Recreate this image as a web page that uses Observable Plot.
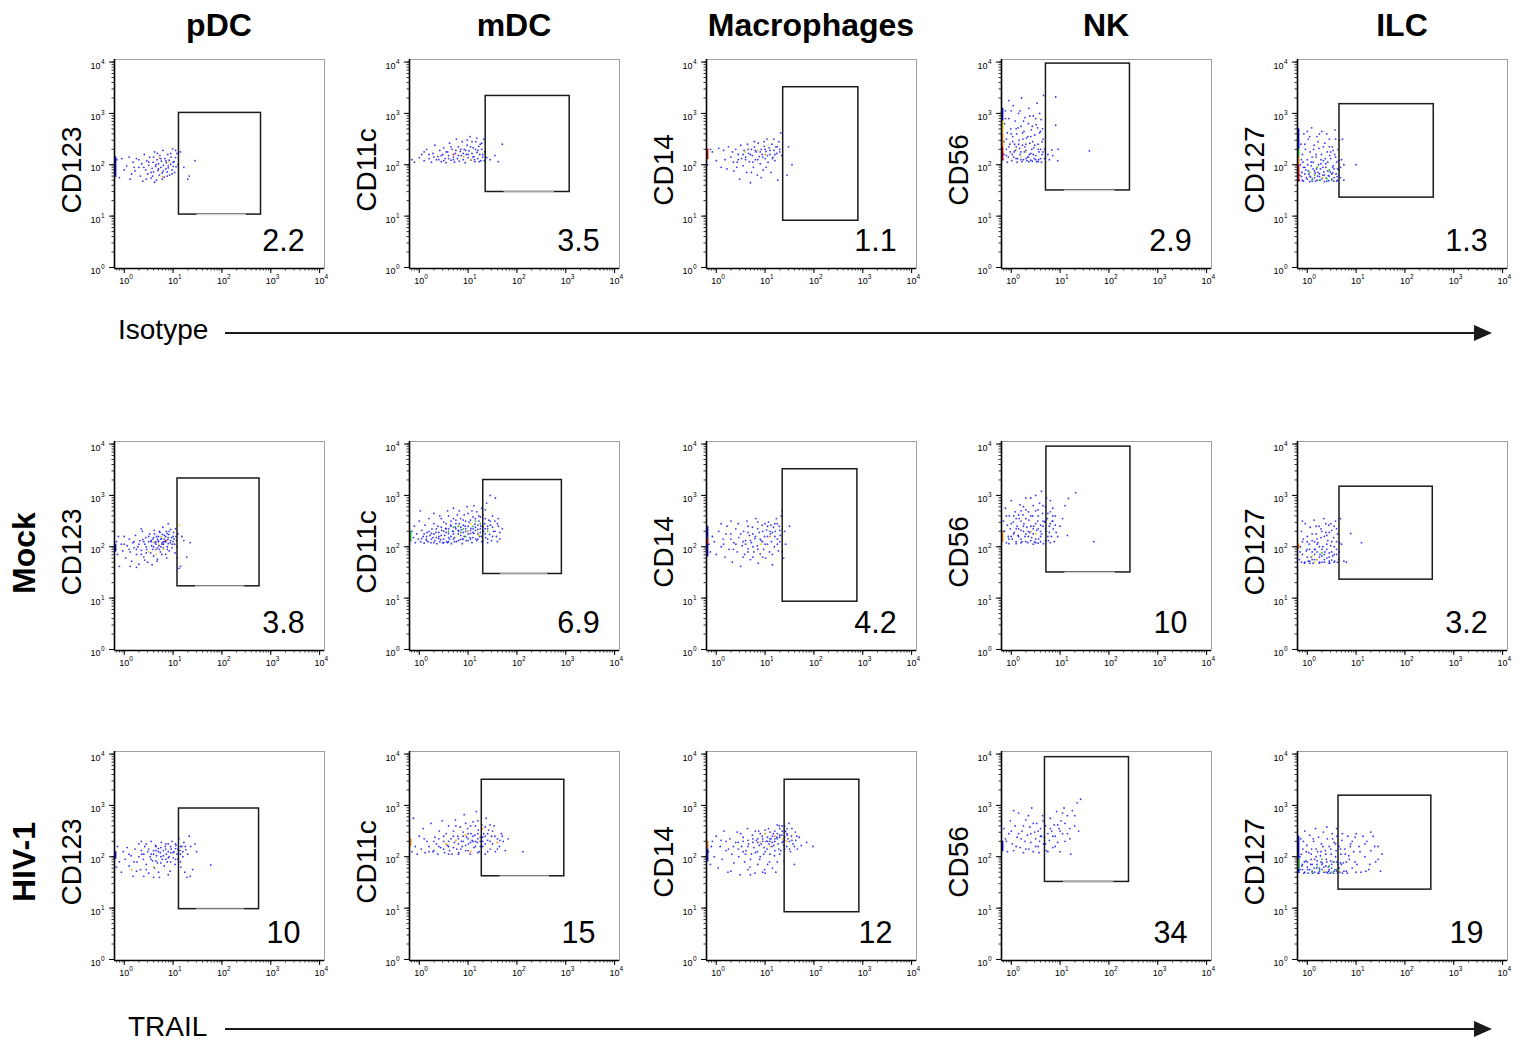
<!DOCTYPE html>
<html>
<head>
<meta charset="utf-8">
<script src="https://cdn.jsdelivr.net/npm/d3@7"></script>
<script src="https://cdn.jsdelivr.net/npm/@observablehq/plot@0.6"></script>
<style>
  body { margin: 0; background: #fff; }
  #page { position: relative; width: 1523px; height: 1043px; overflow: hidden; background: #fff;
          font-family: "Liberation Sans", Arial, Helvetica, sans-serif; }
  #page svg.panel { position: absolute; overflow: visible; }
  #overlay { position: absolute; left: 0; top: 0; }
</style>
</head>
<body>
<div id="page"></div>
<script>
// ---------- data (values in log10 units) ----------
const populations = ["pDC", "mDC", "Macrophages", "NK", "ILC"];
const markers = ["CD123", "CD11c", "CD14", "CD56", "CD127"];
const rowLabels = ["", "Mock", "HIV-1"];
const percents = [
  [2.2, 3.5, 1.1, 2.9, 1.3],
  [3.8, 6.9, 4.2, 10, 3.2],
  [10, 15, 12, 34, 19]
];
// gates: [x1, x2, y1, y2] as log10 of TRAIL and marker intensity
const gatesIsotype = [[1.12, 2.80, 1.03, 3.01], [1.36, 3.08, 1.47, 3.34], [1.37, 2.91, 0.91, 3.51], [0.71, 2.43, 1.50, 3.97], [0.66, 2.59, 1.36, 3.18]];
const gatesMock    = [[1.09, 2.77, 1.23, 3.33], [1.31, 2.92, 1.47, 3.30], [1.36, 2.89, 0.93, 3.51], [0.72, 2.44, 1.50, 3.95], [0.66, 2.57, 1.36, 3.17]];
const gatesHIV     = [[1.12, 2.76, 0.98, 2.94], [1.28, 2.97, 1.62, 3.50], [1.40, 2.93, 0.92, 3.50], [0.69, 2.41, 1.51, 3.94], [0.64, 2.54, 1.36, 3.19]];
const fadedGateBase = [true, true, false, true, false];
const axisExponents = [0, 1, 2, 3, 4];
const tickBase = "10";

// events (x = log10 TRAIL, y = log10 marker)
const cloudsIsotype = [
"-0.18,1.92 -0.15,2.1 -0.1,1.75 -0.05,2.12 0.05,1.98 0.12,1.72 0.18,2.05 0.22,1.88 0.25,2.12 0.3,1.95 0.33,1.78 0.36,2.02 0.38,1.68 0.41,2.2 0.44,1.9 0.46,2.08 0.48,1.82 0.5,1.99 0.52,2.15 0.55,1.74 0.57,1.93 0.59,2.05 0.6,1.86 0.62,2.25 0.64,1.97 0.66,1.7 0.67,2.1 0.69,1.89 0.7,2.02 0.72,1.8 0.73,2.18 0.75,1.95 0.76,2.07 0.78,1.84 0.79,2.28 0.8,1.99 0.82,1.76 0.83,2.12 0.85,1.92 0.86,2.04 0.88,1.86 0.89,2.2 0.9,1.98 0.92,2.09 0.93,1.8 0.95,2.01 0.96,2.15 0.98,1.9 0.99,2.31 1.0,1.97 1.02,2.06 1.03,1.85 1.05,2.14 1.06,1.96 1.08,2.22 1.1,2.0 1.15,2.25 1.22,1.95 1.33,1.78 1.3,1.72 1.45,2.08 0.4,1.95 0.5,2.05 0.55,1.85 0.6,2.15 0.65,2.0 0.7,1.92 0.75,2.12 0.8,1.88 0.85,2.08 0.9,1.94 0.95,2.22 1.0,2.05 0.68,2.22 0.58,1.78 0.78,1.72 0.88,1.78 0.98,1.82 0.3,2.1 0.2,1.95 0.1,2.15 0.15,1.82 0.0,1.9 0.45,1.72 1.05,2.28 0.62,1.66",
"-0.15,2.1 -0.1,2.05 0.05,2.2 0.1,2.08 0.15,2.3 0.2,2.12 0.25,2.05 0.28,2.22 0.32,2.38 0.35,2.1 0.38,2.16 0.42,2.28 0.45,2.06 0.48,2.2 0.5,2.33 0.53,2.12 0.55,2.04 0.58,2.25 0.6,2.18 0.62,2.42 0.65,2.09 0.67,2.3 0.7,2.15 0.72,2.05 0.74,2.22 0.76,2.5 0.78,2.12 0.8,2.35 0.82,2.07 0.84,2.26 0.86,2.18 0.88,2.45 0.9,2.1 0.92,2.3 0.94,2.04 0.96,2.2 0.98,2.38 1.0,2.14 1.02,2.27 1.04,2.55 1.06,2.09 1.08,2.22 1.1,2.33 1.12,2.16 1.14,2.06 1.16,2.45 1.18,2.24 1.2,2.12 1.22,2.36 1.24,2.2 1.26,2.08 1.28,2.3 1.3,2.15 1.32,2.5 1.34,2.25 1.38,2.14 1.45,2.1 1.55,2.18 1.62,2.06 1.7,2.4 0.3,2.15 0.4,2.1 0.5,2.08 0.6,2.12 0.7,2.1 0.8,2.18 0.9,2.22 1.0,2.2 1.1,2.15 1.2,2.28 1.3,2.2 0.85,2.3 0.95,2.28 1.05,2.35 1.15,2.3 1.25,2.4 0.75,2.28 0.65,2.35 0.55,2.25 0.45,2.18 1.18,2.52 1.08,2.45 0.98,2.48 1.28,2.42 0.2,2.2 0.1,2.25 0.0,2.14 1.33,2.08 1.23,2.06 1.13,2.1",
"-0.18,2.0 -0.12,2.3 -0.08,2.25 0.0,2.08 0.05,2.32 0.1,1.95 0.15,2.28 0.18,2.1 0.22,1.92 0.25,2.35 0.3,2.15 0.33,2.25 0.36,1.88 0.4,2.3 0.43,2.05 0.45,2.2 0.48,1.72 0.5,2.38 0.52,2.12 0.55,1.98 0.57,2.28 0.6,2.15 0.62,1.85 0.64,2.4 0.66,2.22 0.68,2.06 0.7,1.65 0.72,2.3 0.74,2.18 0.76,1.95 0.78,2.35 0.8,2.1 0.82,2.25 0.84,1.8 0.86,2.42 0.88,2.16 0.9,2.02 0.92,2.3 0.94,2.2 0.96,1.9 0.98,2.36 1.0,2.12 1.02,2.26 1.04,2.5 1.06,2.05 1.08,2.33 1.1,2.2 1.12,1.85 1.14,2.4 1.16,2.15 1.18,2.28 1.2,2.08 1.22,2.35 1.24,2.22 1.26,1.7 1.28,2.45 1.3,2.3 1.32,2.62 1.34,2.18 1.48,2.35 1.55,2.0 1.45,1.8 0.7,2.2 0.8,2.28 0.9,2.25 1.0,2.3 1.1,2.28 1.2,2.2 1.3,2.25 0.6,2.1 0.75,2.05 0.85,2.1 0.95,2.15 1.05,2.18 1.15,2.12 1.25,2.35 0.65,2.3 0.55,2.2 0.45,2.1 0.35,2.05 1.18,2.5 0.98,2.45 0.78,2.45 0.92,1.75 0.72,1.85 1.02,1.95 0.42,1.95",
"-0.17,2.1 -0.15,2.45 -0.14,2.8 -0.12,3.05 -0.1,2.3 -0.08,2.62 -0.06,2.15 -0.05,2.9 -0.03,2.4 -0.01,2.7 0.01,2.08 0.03,2.55 0.04,3.15 0.06,2.25 0.08,2.85 0.1,2.35 0.11,2.6 0.13,2.12 0.15,3.0 0.16,2.48 0.18,2.2 0.2,2.75 0.21,3.3 0.23,2.38 0.25,2.1 0.26,2.65 0.28,2.92 0.3,2.28 0.31,2.52 0.33,2.15 0.35,2.8 0.36,3.1 0.38,2.42 0.4,2.22 0.41,2.68 0.43,2.07 0.45,2.95 0.46,2.33 0.48,2.58 0.5,2.18 0.51,2.78 0.53,3.2 0.55,2.4 0.56,2.1 0.58,2.62 0.6,2.3 0.61,2.88 0.63,2.2 0.65,2.5 0.66,3.35 0.68,2.12 0.02,2.2 0.12,2.05 0.22,2.06 0.32,2.08 0.42,2.3 0.52,2.06 0.62,2.05 -0.1,2.18 0.07,2.4 0.17,2.32 0.27,2.25 0.37,2.2 0.47,2.12 0.57,2.25 -0.05,3.25 0.24,2.5 0.44,2.45 0.14,2.72 0.34,2.55 0.54,2.72 0.64,2.7 0.83,2.29 0.91,3.32 0.91,2.77 0.96,2.3 0.85,2.18 0.95,2.08 0.75,2.2 1.6,2.27 0.78,2.1 -0.15,2.2 -0.1,2.5 -0.05,2.35 0.0,2.6 0.05,2.15 0.1,2.7 0.15,2.4 0.2,2.25 0.25,2.85 0.3,2.4 0.35,2.15 0.4,2.55 0.45,2.2 0.5,2.9 0.55,2.3 0.6,2.65 0.65,2.25 -0.12,2.9 0.0,3.05 0.18,3.05 0.38,2.95 0.58,3.0 0.1,2.12 0.2,2.1 0.3,2.12 0.4,2.09 0.5,2.1 0.6,2.12 -0.02,2.25 0.08,2.28 0.28,2.35 0.48,2.38 0.68,2.3 0.03,2.45 0.23,2.62 0.43,2.75 0.63,2.45 -0.08,2.05 0.36,2.06 0.55,2.06",
"-0.16,1.7 -0.14,2.0 -0.13,2.4 -0.11,1.85 -0.1,2.2 -0.08,1.68 -0.07,2.6 -0.05,1.95 -0.04,2.3 -0.02,1.75 0.0,2.1 0.02,2.5 0.03,1.82 0.05,1.67 0.06,2.25 0.08,1.98 0.09,2.72 0.11,1.72 0.12,2.05 0.14,2.38 0.15,1.88 0.17,1.68 0.18,2.15 0.2,2.55 0.21,1.78 0.23,2.0 0.24,2.32 0.26,1.7 0.27,1.92 0.29,2.2 0.3,2.65 0.32,1.8 0.33,2.08 0.35,1.67 0.36,2.42 0.38,1.95 0.39,1.74 0.41,2.25 0.42,2.05 0.44,1.69 0.45,2.5 0.47,1.86 0.48,2.12 0.5,1.72 0.51,2.35 0.53,1.98 0.54,1.68 0.56,2.2 0.57,2.68 0.59,1.82 0.6,2.05 0.62,1.7 0.63,2.3 0.65,1.9 0.66,2.48 0.68,1.75 0.7,2.1 -0.12,1.77 -0.03,1.9 0.07,1.76 0.16,1.84 0.25,1.77 0.34,1.86 0.43,1.79 0.52,1.84 0.61,1.77 0.1,2.15 0.28,2.02 0.46,2.18 0.64,2.08 -0.09,2.05 0.01,2.0 0.19,1.92 0.37,2.12 0.55,1.92 0.22,2.45 0.4,2.6 0.05,2.55 0.58,2.5 0.75,2.0 1.0,2.0 0.75,1.7 0.72,2.5 -0.15,1.8 -0.1,1.7 -0.05,1.82 0.0,1.72 0.05,1.78 0.1,1.68 0.15,1.75 0.2,1.7 0.25,1.82 0.3,1.73 0.35,1.8 0.4,1.68 0.45,1.78 0.5,1.82 0.55,1.75 0.6,1.68 0.65,1.8 -0.08,1.95 0.02,1.88 0.12,1.92 0.22,1.85 0.32,1.95 0.42,1.88 0.52,1.95 0.62,1.92 -0.12,2.1 0.08,2.05 0.18,2.2 0.28,2.1 0.38,2.02 0.48,2.25 0.58,2.15 0.68,1.95 -0.05,2.4 0.13,2.3 0.33,2.35 0.53,2.28 0.0,2.65 0.25,2.6 0.45,2.35"
];
const cloudsMock = [
"-0.18,1.95 -0.16,2.1 -0.14,1.85 -0.12,2.2 -0.1,1.62 -0.06,2.05 -0.03,1.92 0.0,2.2 0.03,1.78 0.06,2.02 0.1,2.15 0.12,1.9 0.15,1.72 0.18,2.08 0.2,1.98 0.23,2.22 0.25,1.85 0.28,2.0 0.3,1.66 0.32,2.12 0.35,1.93 0.37,2.3 0.4,1.8 0.42,2.05 0.44,2.18 0.46,1.95 0.48,1.7 0.5,2.1 0.52,2.25 0.54,1.88 0.56,2.02 0.58,2.15 0.6,1.82 0.61,2.32 0.63,2.08 0.65,1.95 0.66,2.2 0.68,1.76 0.7,2.12 0.71,2.02 0.73,2.28 0.74,1.9 0.76,2.16 0.77,2.05 0.79,2.38 0.8,1.98 0.82,2.22 0.83,2.1 0.85,1.85 0.86,2.3 0.88,2.0 0.89,2.14 0.91,2.24 0.92,1.92 0.94,2.08 0.95,2.34 0.97,2.18 0.98,1.98 1.0,2.1 1.01,2.28 1.03,2.05 1.04,1.88 1.06,2.2 1.07,2.12 1.09,1.78 1.1,2.25 0.6,2.0 0.65,2.1 0.7,2.2 0.75,2.0 0.8,2.1 0.85,2.2 0.9,2.06 0.72,1.95 0.78,2.24 0.68,2.15 0.88,2.26 0.55,2.12 0.45,2.0 0.38,2.14 0.35,2.35 0.42,1.74 0.25,1.6 0.12,1.62 1.18,2.2 1.22,2.12 1.35,2.08 1.28,1.8 1.15,1.62 1.12,1.58 0.9,2.45 0.55,2.1 0.6,2.18 0.65,2.05 0.7,2.1 0.75,2.15 0.8,2.05 0.85,2.1 0.9,2.18 0.95,2.12 1.0,2.2 0.62,2.25 0.72,2.3 0.82,2.15 0.92,2.3 1.02,2.15 0.58,1.95 0.68,1.98 0.78,2.08 0.88,1.95 0.98,2.05 1.08,2.0 0.5,2.2 0.4,2.1 0.3,2.05 0.2,2.1 0.1,1.95 0.0,2.05 0.45,1.88 0.35,1.85 0.25,1.95 0.77,1.85 0.87,1.78 0.67,1.72 0.57,1.65 1.05,2.35",
"-0.18,2.12 -0.15,2.3 -0.12,2.18 -0.1,2.4 -0.08,2.08 -0.05,2.25 -0.02,2.15 0.0,2.5 0.03,2.1 0.05,2.32 0.08,2.2 0.1,2.07 0.12,2.42 0.14,2.15 0.16,2.28 0.18,2.1 0.2,2.55 0.22,2.22 0.24,2.08 0.26,2.35 0.28,2.18 0.3,2.45 0.32,2.12 0.34,2.28 0.36,2.06 0.38,2.4 0.4,2.2 0.42,2.6 0.44,2.14 0.46,2.32 0.48,2.08 0.5,2.48 0.52,2.22 0.54,2.36 0.56,2.1 0.58,2.7 0.6,2.26 0.62,2.15 0.64,2.42 0.66,2.06 0.68,2.3 0.7,2.55 0.72,2.18 0.74,2.38 0.76,2.1 0.78,2.62 0.8,2.25 0.82,2.45 0.84,2.14 0.86,2.33 0.88,2.06 0.9,2.52 0.92,2.2 0.94,2.4 0.96,2.12 0.98,2.78 1.0,2.3 1.02,2.48 1.04,2.18 1.06,2.36 1.08,2.08 1.1,2.58 1.12,2.26 1.14,2.44 1.16,2.15 1.18,2.68 1.2,2.34 1.22,2.5 1.24,2.2 1.26,2.4 1.28,2.1 1.3,2.62 1.32,2.3 1.34,2.45 1.36,2.18 1.38,2.85 1.4,2.35 1.42,2.52 1.44,2.24 1.46,2.42 1.48,2.12 1.5,2.6 1.52,2.3 1.55,2.5 1.58,2.2 1.62,2.4 1.65,2.28 1.7,2.35 1.56,2.95 1.6,2.1 0.5,2.15 0.6,2.35 0.7,2.25 0.8,2.32 0.9,2.28 1.0,2.4 1.1,2.35 1.2,2.42 1.3,2.38 0.65,2.2 0.75,2.45 0.85,2.22 0.95,2.3 1.05,2.26 1.15,2.32 1.25,2.28 1.35,2.35 0.55,2.28 0.45,2.22 0.35,2.18 0.25,2.26 0.15,2.2 0.92,2.62 1.08,2.7 1.22,2.6 1.35,2.72 1.45,3.0 0.7,2.75 0.3,2.65 0.02,2.7 1.05,2.15 1.18,2.12 1.28,2.2 0.88,2.15 0.72,2.1 0.58,2.08 0.42,2.1 1.4,2.15 1.5,2.38 1.62,2.55 0.8,2.3 0.85,2.38 0.9,2.42 0.95,2.35 1.0,2.25 1.05,2.32 1.1,2.28 1.15,2.38 1.2,2.25 1.25,2.35 1.3,2.3 1.35,2.25 1.4,2.4 0.75,2.35 0.7,2.3 0.65,2.4 0.6,2.18 0.55,2.35 0.5,2.3 0.45,2.38 0.4,2.28 0.35,2.35 0.3,2.25 0.25,2.15 0.2,2.3 0.15,2.12 0.1,2.25 0.05,2.16 0.9,2.15 1.0,2.12 1.1,2.18 1.2,2.15 1.3,2.12 1.4,2.08 0.8,2.12 0.7,2.15 0.6,2.1 0.5,2.08 0.4,2.16 0.3,2.08 0.95,2.5 1.05,2.52 1.15,2.55 1.25,2.58 1.35,2.55 0.85,2.55 0.75,2.52 0.65,2.5 0.55,2.45 1.45,2.5 1.5,2.2 1.55,2.3 1.6,2.45 1.65,2.15 1.0,2.65 1.12,2.8 0.82,2.7 1.28,2.75 0.6,2.6 0.45,2.55",
"-0.15,2.05 -0.12,1.9 -0.08,2.2 -0.04,2.1 0.0,1.85 0.05,2.3 0.1,2.0 0.14,2.15 0.18,1.8 0.22,2.4 0.26,1.95 0.3,2.25 0.33,1.7 0.36,2.08 0.4,2.35 0.43,1.9 0.46,2.18 0.5,1.62 0.53,2.02 0.56,2.3 0.58,1.85 0.6,2.12 0.63,2.5 0.65,1.96 0.68,2.22 0.7,1.75 0.72,2.08 0.74,2.38 0.77,1.9 0.79,2.16 0.81,2.55 0.84,2.02 0.86,1.68 0.88,2.28 0.9,1.86 0.92,2.12 0.94,2.42 0.97,1.95 0.99,2.2 1.01,1.78 1.03,2.33 1.05,2.05 1.07,2.48 1.09,1.9 1.11,2.25 1.13,2.1 1.15,1.65 1.17,2.38 1.19,2.0 1.21,2.3 1.23,2.55 1.25,2.15 1.27,1.92 1.29,2.4 1.31,2.22 1.33,2.6 0.95,2.3 0.85,2.35 1.0,2.45 1.12,2.42 1.2,2.45 0.75,2.25 0.65,2.28 0.55,2.1 0.45,2.45 0.3,2.5 0.1,2.45 1.35,2.7 1.4,2.3 1.42,2.05 1.5,2.4 1.35,1.9 1.38,1.78 0.6,2.05 0.7,2.12 0.8,2.2 0.9,2.15 1.0,2.05 1.1,2.3 1.2,2.2 1.3,2.1 0.65,1.9 0.75,2.0 0.85,1.95 0.95,2.1 1.05,2.2 1.15,2.28 1.25,2.05 0.5,2.25 0.4,2.05 0.3,2.15 0.2,2.25 0.55,1.8 0.75,1.8 0.95,1.8 1.15,1.85 0.85,2.48 1.05,2.4 1.25,2.45 0.65,2.4 0.35,1.95 0.15,2.05 1.3,2.32",
"-0.18,2.12 -0.16,2.5 -0.14,2.3 -0.12,2.75 -0.1,2.08 -0.08,2.42 -0.06,2.2 -0.04,2.6 -0.02,2.35 0.0,2.9 0.02,2.15 0.04,2.48 0.06,2.28 0.08,2.68 0.1,2.06 0.12,2.4 0.14,2.22 0.16,2.55 0.18,2.82 0.2,2.32 0.22,2.1 0.24,2.62 0.26,2.45 0.28,2.2 0.3,2.72 0.32,2.38 0.34,2.08 0.36,2.52 0.38,2.28 0.4,2.95 0.42,2.18 0.44,2.6 0.46,2.4 0.48,2.1 0.5,2.7 0.52,2.32 0.54,2.5 0.56,2.15 0.58,2.85 0.6,2.42 0.62,2.25 0.64,2.65 0.66,2.06 0.68,2.48 0.7,2.78 0.72,2.3 0.74,2.55 0.76,2.12 0.78,2.4 0.8,2.68 0.82,2.2 0.84,2.5 0.86,2.35 0.88,2.1 0.9,2.6 0.92,2.28 0.1,2.35 0.2,2.5 0.3,2.25 0.4,2.4 0.5,2.45 0.6,2.3 0.7,2.5 0.15,2.2 0.35,2.3 0.55,2.35 0.25,2.3 0.45,2.25 0.65,2.4 0.05,2.6 0.5,3.0 0.62,3.08 0.3,2.95 0.8,2.9 0.85,2.75 0.2,2.7 0.75,2.2 0.55,2.07 0.45,2.05 -0.05,2.06 1.0,2.4 1.05,2.55 1.1,2.8 1.17,2.94 1.32,3.05 1.15,2.22 1.69,2.1 0.95,2.2 -0.15,2.3 -0.1,2.6 -0.05,2.15 0.0,2.45 0.05,2.25 0.1,2.55 0.15,2.35 0.2,2.15 0.25,2.4 0.3,2.55 0.35,2.2 0.4,2.6 0.45,2.35 0.5,2.15 0.55,2.6 0.6,2.2 0.65,2.5 0.7,2.35 0.75,2.65 0.8,2.45 0.85,2.6 0.9,2.42 0.3,2.1 0.4,2.12 0.5,2.08 0.6,2.1 0.7,2.12 0.8,2.08 0.2,2.08 0.1,2.1 0.0,2.2 0.65,2.8 0.72,2.95 0.45,2.8 0.55,2.72 0.25,2.78 0.15,2.62 0.35,2.68 0.85,2.5 0.78,2.28",
"-0.16,1.75 -0.14,2.0 -0.12,2.3 -0.1,1.85 -0.08,2.15 -0.06,1.68 -0.04,2.45 -0.02,1.92 0.0,2.2 0.02,1.72 0.04,2.05 0.06,2.38 0.08,1.8 0.1,2.12 0.12,1.68 0.14,2.52 0.16,1.95 0.18,2.25 0.2,1.75 0.22,2.08 0.24,2.4 0.26,1.85 0.28,2.18 0.3,1.7 0.32,2.0 0.34,2.55 0.36,1.9 0.38,2.28 0.4,1.78 0.42,2.12 0.44,2.42 0.46,1.68 0.48,2.02 0.5,2.32 0.52,1.82 0.54,2.18 0.56,1.72 0.58,2.5 0.6,1.95 0.62,2.25 0.64,1.76 0.66,2.08 0.0,1.8 0.1,1.75 0.2,1.9 0.3,1.82 0.4,1.95 0.5,1.74 0.6,1.85 0.05,1.95 0.15,1.85 0.25,2.0 0.35,1.75 0.45,1.88 0.55,2.0 0.25,1.7 0.45,1.72 0.15,2.1 0.35,2.2 0.55,2.4 -0.1,2.5 0.28,2.35 0.48,2.45 0.7,2.05 0.75,1.72 0.8,1.7 0.89,2.26 1.11,2.08 0.68,2.55 -0.15,1.9 -0.1,2.1 -0.05,1.7 0.0,1.95 0.05,1.72 0.1,1.9 0.15,1.75 0.2,2.05 0.25,1.8 0.3,1.95 0.35,1.7 0.4,2.05 0.45,1.8 0.5,1.9 0.55,1.7 0.6,2.1 0.65,1.9 0.0,2.1 0.1,2.25 0.2,2.15 0.3,2.3 0.4,2.22 0.5,2.1 0.6,2.35 0.05,1.68 0.25,1.68 0.45,1.68 0.62,1.7 -0.12,1.7 0.35,1.85 0.15,1.95 0.55,1.85 0.45,2.28 0.18,2.4 0.38,2.45"
];
const cloudsHIV = [
"-0.18,2.05 -0.16,1.8 -0.14,2.2 -0.1,1.9 -0.06,1.7 -0.02,2.1 0.02,1.95 0.06,2.18 0.1,1.82 0.14,2.02 0.18,1.62 0.22,2.15 0.26,1.9 0.3,2.25 0.33,1.75 0.36,2.05 0.39,1.95 0.42,2.2 0.45,1.85 0.48,2.1 0.5,1.68 0.53,2.0 0.55,2.3 0.58,1.92 0.6,2.12 0.62,1.78 0.64,2.22 0.66,2.02 0.68,1.88 0.7,2.16 0.72,1.6 0.74,2.08 0.76,2.28 0.78,1.95 0.8,2.12 0.82,1.82 0.84,2.2 0.86,2.05 0.88,1.9 0.9,2.25 0.92,2.0 0.94,1.72 0.96,2.15 0.98,2.3 1.0,1.98 1.02,2.1 1.04,1.85 1.06,2.22 1.08,2.05 1.1,1.95 1.12,2.35 1.14,2.12 1.16,1.8 1.18,2.2 1.2,2.0 1.22,2.28 1.24,1.7 1.26,2.14 1.28,1.6 1.3,2.05 1.33,2.4 1.36,2.2 1.4,1.75 1.45,2.25 1.48,2.1 1.77,1.84 0.85,2.15 0.95,2.08 1.05,2.16 0.75,2.0 0.65,2.12 1.15,2.05 0.9,1.98 0.55,2.05 0.45,2.25 0.35,2.3 0.25,1.72 0.4,1.62 0.6,1.6 1.35,1.62 0.6,2.05 0.7,2.1 0.8,2.02 0.9,2.1 1.0,2.08 1.1,2.15 1.2,2.1 0.65,2.2 0.75,2.18 0.85,2.25 0.95,2.2 1.05,2.25 1.15,2.2 0.55,1.95 0.65,1.92 0.75,1.88 0.85,1.95 0.95,1.9 1.05,1.95 0.5,2.15 0.4,2.05 0.3,2.0 0.2,1.9 0.1,2.05 0.45,1.75 0.7,1.7 0.9,1.65 1.15,1.9 1.25,2.2 0.35,2.12",
"-0.18,2.3 -0.15,2.1 -0.12,2.75 -0.08,2.2 -0.04,2.05 0.0,2.4 0.04,2.15 0.08,2.55 0.12,2.08 0.16,2.3 0.2,2.2 0.24,2.65 0.28,2.1 0.32,2.38 0.35,2.25 0.38,2.05 0.41,2.5 0.44,2.18 0.47,2.7 0.5,2.3 0.52,2.08 0.55,2.45 0.58,2.22 0.6,2.6 0.62,2.12 0.65,2.35 0.67,2.05 0.7,2.5 0.72,2.28 0.74,2.72 0.77,2.15 0.79,2.4 0.81,2.08 0.84,2.58 0.86,2.3 0.88,2.2 0.9,2.48 0.92,2.82 0.95,2.12 0.97,2.38 0.99,2.55 1.01,2.25 1.04,2.05 1.06,2.45 1.08,2.32 1.1,2.68 1.12,2.18 1.14,2.42 1.17,2.88 1.19,2.28 1.21,2.52 1.23,2.1 1.25,2.38 1.28,2.62 1.3,2.2 1.32,2.45 1.35,2.05 1.37,2.75 1.4,2.32 1.42,2.52 1.45,2.15 1.48,2.4 1.5,2.25 1.53,2.6 1.56,2.1 1.6,2.35 1.64,2.2 1.68,2.45 1.72,2.3 1.76,2.12 1.82,2.35 2.12,2.1 1.0,2.35 1.1,2.4 1.2,2.45 1.3,2.38 0.9,2.3 0.8,2.25 1.15,2.3 1.25,2.2 1.35,2.4 0.7,2.18 0.6,2.3 1.05,2.6 1.45,2.62 1.55,2.4 0.3,2.12 0.5,2.15 0.4,2.35 0.8,2.35 0.9,2.4 1.0,2.45 1.1,2.3 1.2,2.35 1.3,2.3 1.4,2.45 0.85,2.15 0.95,2.22 1.05,2.28 1.15,2.2 1.25,2.3 1.35,2.25 0.7,2.4 0.6,2.2 0.5,2.4 0.4,2.2 0.3,2.3 0.2,2.1 0.1,2.35 0.75,2.6 0.95,2.65 1.15,2.6 1.35,2.58 1.2,2.7 1.0,2.12 1.2,2.08 1.4,2.1 0.8,2.05 0.6,2.05 1.5,2.5 1.6,2.15 1.7,2.4 1.45,2.3 1.65,2.32",
"-0.16,2.1 -0.12,1.85 -0.08,2.3 -0.04,2.0 0.0,2.4 0.04,1.78 0.08,2.2 0.12,1.95 0.16,2.5 0.2,2.12 0.24,1.7 0.28,2.35 0.32,2.05 0.36,1.88 0.4,2.28 0.43,2.48 0.46,2.0 0.49,1.65 0.52,2.2 0.55,2.38 0.58,1.9 0.61,2.12 0.64,2.55 0.66,2.25 0.69,1.8 0.72,2.05 0.74,2.42 0.77,2.18 0.79,1.68 0.82,2.32 0.84,2.1 0.87,2.5 0.89,1.95 0.92,2.25 0.94,2.4 0.97,2.05 0.99,1.75 1.02,2.3 1.04,2.15 1.07,2.55 1.09,1.9 1.12,2.35 1.14,2.2 1.17,2.45 1.19,2.02 1.22,1.7 1.24,2.38 1.27,2.25 1.29,2.6 1.32,2.12 1.34,2.42 1.37,2.3 1.39,1.92 1.42,2.5 1.44,2.2 1.47,2.35 1.49,2.65 1.52,2.1 1.54,2.4 1.57,2.25 1.6,1.85 1.63,2.32 1.66,2.15 1.7,2.38 1.74,2.22 1.85,2.28 1.98,2.2 1.1,2.3 1.2,2.35 1.3,2.38 1.4,2.32 1.25,2.45 1.35,2.5 1.45,2.42 1.15,2.4 1.05,2.38 0.95,2.3 0.85,2.35 0.75,2.28 1.38,2.22 1.28,2.15 1.18,2.22 1.08,2.25 0.98,2.18 0.88,2.22 0.65,2.32 0.55,2.1 0.45,2.15 0.7,1.65 1.0,1.68 0.3,1.72 1.55,2.55 1.62,2.48 1.4,2.6 0.1,2.32 1.1,2.35 1.2,2.3 1.3,2.42 1.4,2.38 1.5,2.3 1.15,2.28 1.25,2.35 1.35,2.28 1.45,2.45 1.05,2.3 0.95,2.35 0.85,2.28 0.75,2.35 0.65,2.2 0.55,2.3 0.45,2.28 0.35,2.2 0.25,2.15 1.2,2.5 1.3,2.55 1.4,2.48 1.1,2.48 1.0,2.52 0.9,2.45 0.8,2.5 1.2,2.12 1.3,2.05 1.4,2.15 1.1,2.05 1.0,2.1 0.9,2.0 0.8,2.08 0.7,1.95 0.6,2.05 1.5,2.15 1.6,2.2 1.65,2.4 1.55,2.32 0.85,1.85 1.05,1.85 1.25,1.9 0.65,1.75 1.15,1.78 0.95,1.7 1.35,2.6 1.25,2.62 1.45,2.55 0.5,2.45 0.2,2.3 -0.1,2.2",
"-0.18,2.2 -0.15,2.55 -0.12,2.35 -0.08,2.1 -0.05,2.45 -0.02,2.7 0.02,2.25 0.05,2.12 0.08,2.6 0.12,2.38 0.15,2.85 0.18,2.18 0.22,2.5 0.25,2.08 0.28,2.3 0.3,2.72 0.33,2.42 0.36,2.15 0.38,2.58 0.4,2.28 0.42,2.95 0.45,2.1 0.48,2.48 0.5,2.35 0.52,2.65 0.55,2.2 0.57,2.08 0.6,2.55 0.62,2.4 0.64,2.8 0.66,2.25 0.7,2.6 0.72,2.12 0.75,2.45 0.78,2.32 0.8,2.75 0.83,2.5 0.85,2.18 0.88,2.62 0.9,2.4 0.93,2.88 0.95,2.28 0.98,2.55 1.0,2.1 1.02,2.7 1.05,2.45 1.08,2.95 1.1,2.3 1.15,2.8 1.2,2.55 1.22,2.05 1.25,2.9 1.3,2.6 1.35,3.05 1.38,2.5 1.42,3.12 0.05,2.9 0.35,2.8 0.58,2.3 0.68,2.38 -0.1,2.3 0.0,2.5 0.1,2.2 0.2,2.35 0.3,2.15 0.4,2.45 0.5,2.2 0.6,2.4 0.7,2.25 0.8,2.55 0.9,2.2 1.0,2.5 1.1,2.65 1.2,2.35 1.3,2.8 0.25,2.6 0.45,2.65 0.65,2.7 0.85,2.4 1.05,2.85 0.15,2.45 0.55,2.5 0.75,2.1 0.95,2.62 1.15,2.45",
"-0.17,1.7 -0.15,2.0 -0.13,2.35 -0.11,1.82 -0.09,2.15 -0.07,1.68 -0.05,2.5 -0.03,1.92 -0.01,2.22 0.01,1.75 0.03,2.08 0.05,2.42 0.07,1.85 0.09,2.15 0.11,1.68 0.13,2.3 0.15,1.95 0.17,2.55 0.19,1.78 0.21,2.1 0.23,2.38 0.25,1.72 0.27,2.02 0.29,2.25 0.31,1.88 0.33,2.48 0.35,1.7 0.37,2.12 0.39,1.95 0.41,2.35 0.43,1.8 0.45,2.2 0.47,1.68 0.49,2.05 0.51,2.45 0.53,1.9 0.55,2.28 0.57,1.75 0.59,2.12 0.61,2.4 0.63,1.85 0.65,2.2 0.67,1.7 0.69,2.05 0.71,2.32 0.74,1.88 0.77,2.15 0.8,1.72 0.83,2.4 0.86,1.95 0.89,2.25 0.92,1.78 0.95,2.1 0.98,2.38 1.02,1.85 1.06,2.2 1.1,1.7 1.14,2.4 1.18,2.0 1.22,2.3 1.26,1.75 1.3,2.12 1.35,2.4 1.4,1.9 1.45,2.2 1.5,1.72 1.53,2.05 -0.1,1.75 0.0,1.8 0.1,1.72 0.2,1.85 0.3,1.75 0.4,1.7 0.5,1.78 0.6,1.72 0.08,1.95 0.18,2.0 0.28,1.9 0.38,1.82 0.48,1.92 0.58,2.0 0.68,1.88 -0.06,1.9 0.14,1.78 0.24,1.68 0.34,1.8 0.44,1.72 0.54,1.68 0.64,1.78 0.4,2.58 0.6,2.55 1.0,2.45 1.3,2.48 0.85,2.02 0.72,1.68 -0.15,1.75 -0.1,1.85 -0.05,1.7 0.0,1.9 0.05,1.75 0.1,1.85 0.15,1.7 0.2,1.92 0.25,1.78 0.3,1.85 0.35,1.7 0.4,1.9 0.45,1.75 0.5,1.85 0.55,1.72 0.6,1.9 0.65,1.78 0.7,1.85 0.75,1.72 0.8,1.9 -0.12,2.05 -0.02,2.1 0.08,2.05 0.18,2.15 0.28,2.1 0.38,2.05 0.48,2.15 0.58,2.25 0.68,2.15 0.78,2.05 0.88,2.2 0.98,1.9 1.08,2.1 1.18,2.25 1.28,1.85 1.38,2.2 -0.08,2.3 0.12,2.35 0.32,2.2 0.52,2.35 0.72,2.45 0.92,2.3 0.02,1.68 0.22,1.68 0.42,1.68 0.62,1.68 0.82,1.68 1.0,1.7 1.2,1.72 1.45,1.95"
];
// high-density events (density colour key: g green, y yellow, o orange, r red)
const hotIsotype = [
"0.72,2.13,o 0.78,1.77,o 0.9,2.06,y",
"0.91,2.16,o 1.05,2.09,o 0.7,2.2,r",
"0.6,2.25,y 0.85,2.28,y 1.0,2.2,o",
"0.1,2.3,y 0.3,2.25,y 0.2,2.15,y",
"0.1,1.72,g 0.25,1.7,g 0.4,1.73,g 0.15,1.8,g 0.32,1.75,y 0.5,1.7,g 0.2,1.95,g 0.45,1.9,g 0.05,1.85,g"
];
const hotMock = [
"0.7,2.05,y 0.75,2.2,y 0.6,2.1,o 0.8,1.95,y 0.85,2.12,r 0.5,1.9,y 1.13,2.42,y 0.65,1.85,y",
"0.9,2.35,g 1.0,2.3,y 1.1,2.4,g 1.2,2.3,y 1.25,2.45,g 0.8,2.4,g 1.15,2.5,g 1.3,2.4,r 0.95,2.2,g 1.05,2.45,y 0.7,2.38,g 1.4,2.3,g 0.85,2.28,g 1.22,2.22,y 0.6,2.3,g",
"0.92,2.05,y 1.1,2.2,o",
"0.4,2.3,o 0.5,2.25,y",
"0.1,1.82,y 0.2,1.75,y 0.15,1.7,y 0.3,1.88,g"
];
const hotHIV = [
"0.6,1.8,o 0.15,1.75,o",
"0.55,2.25,o 0.75,2.32,o 1.05,2.1,o 1.3,2.55,o 0.95,2.42,o 1.6,2.28,o",
"1.2,2.4,o 1.35,2.35,y 1.1,2.2,y 1.45,2.3,o 0.9,2.28,y 1.0,2.45,o",
"",
"0.1,1.7,g 0.25,1.75,g 0.35,1.72,y 0.5,1.7,g 0.2,1.8,g 0.45,1.82,g 0.6,1.75,g 0.65,1.72,y 0.3,1.95,g 0.55,1.9,g"
];
// events piled on the lower TRAIL limit: [y1, y2, colour key]
const edgeIsotype = ["1.75,2.15,b", "", "2.1,2.3,r", "2.08,2.35,r 2.35,2.6,o 2.6,2.85,y 2.85,3.1,b", "1.66,2.0,r 2.0,2.15,o 2.15,2.3,g 2.3,2.7,b"];
const edgeMock = ["1.9,2.05,b", "2.1,2.3,g", "1.8,2.05,b 2.05,2.15,r 2.15,2.4,b", "2.1,2.3,o", "1.95,2.05,o"];
const edgeHIV = ["1.95,2.1,b", "2.2,2.35,o", "1.9,2.15,b 2.15,2.3,o", "2.1,2.3,b", "1.68,2.4,b 1.75,1.95,g"];

// ---------- rendering ----------
const palette = {b: "#1414f0", g: "#22b922", y: "#e6cf00", o: "#ff8c00", r: "#e00000"};
const FONT = "'Liberation Sans', Arial, Helvetica, sans-serif";
const xDomainExp = [-0.2, 4.1];
const yDomainExp = [-0.02, 4.05];
const xDomain = xDomainExp.map(e => 10 ** e);
const yDomain = yDomainExp.map(e => 10 ** e);

const parsePts = s => s.trim() ? s.trim().split(/\s+/).map(t => {
  const [x, y, c] = t.split(",");
  return {x: 10 ** +x, y: 10 ** +y, c: c || "b"};
}) : [];
const parseEdge = s => s.trim() ? s.trim().split(/\s+/).map(t => {
  const [a, b, c] = t.split(",");
  return {y1: 10 ** +a, y2: 10 ** +b, c};
}) : [];

const rows = [
  {clouds: cloudsIsotype, hot: hotIsotype, edge: edgeIsotype, gates: gatesIsotype},
  {clouds: cloudsMock, hot: hotMock, edge: edgeMock, gates: gatesMock},
  {clouds: cloudsHIV, hot: hotHIV, edge: edgeHIV, gates: gatesHIV}
];
const majorTicks = axisExponents.map(e => ({v: 10 ** e, e: String(e)}));

const colLefts = [114, 409, 706, 1001, 1297];
const rowTops = [59, 441, 751];
const ML = 80, MR = 6, MT = 8, MB = 28, FW = 210, FH = 209;

const page = document.getElementById("page");

rows.forEach((row, r) => {
  populations.forEach((pop, c) => {
    const pts = parsePts(row.clouds[c]);
    const hot = parsePts(row.hot[c]);
    const edge = parseEdge(row.edge[c]);
    const g = row.gates[c];
    const gate = [{x1: 10 ** g[0], x2: 10 ** g[1], y1: 10 ** g[2], y2: 10 ** g[3]}];
    const marks = [
      Plot.frame({stroke: "#a0a0a0", strokeWidth: 1}),
      // minor and major ticks
      Plot.axisX({ticks: 40, tickSize: 2.5, tickFormat: () => "", label: null, strokeWidth: 0.8}),
      Plot.axisX(majorTicks.map(d => d.v), {tickSize: 5, tickFormat: () => "", label: null, strokeWidth: 1}),
      Plot.axisY({ticks: 40, tickSize: 2.5, tickFormat: () => "", label: null, strokeWidth: 0.8}),
      Plot.axisY(majorTicks.map(d => d.v), {tickSize: 5, tickFormat: () => "", label: null, strokeWidth: 1}),
      // tick labels: "10" with a raised exponent
      Plot.text(majorTicks, {x: "v", text: () => tickBase, frameAnchor: "bottom", dy: 15, lineAnchor: "bottom",
        textAnchor: "middle", fontSize: 9, fill: "#000"}),
      Plot.text(majorTicks, {x: "v", text: "e", frameAnchor: "bottom", dx: 5, dy: 10.5, lineAnchor: "bottom",
        textAnchor: "start", fontSize: 6.5, fill: "#000"}),
      Plot.text(majorTicks, {y: "v", text: () => tickBase, frameAnchor: "left", dx: -14, dy: 6.5, lineAnchor: "bottom",
        textAnchor: "end", fontSize: 9, fill: "#000"}),
      Plot.text(majorTicks, {y: "v", text: "e", frameAnchor: "left", dx: -13.5, dy: 1.5, lineAnchor: "bottom",
        textAnchor: "start", fontSize: 6.5, fill: "#000"}),
      // events
      Plot.dot(pts, {x: "x", y: "y", r: 0.9, fill: palette.b, fillOpacity: 0.85, stroke: null}),
      Plot.dot(hot, {x: "x", y: "y", r: 0.9, fill: d => palette[d.c], stroke: null}),
      Plot.ruleX(edge, {x: () => xDomain[0], y1: "y1", y2: "y2", dx: 1.2, stroke: d => palette[d.c], strokeWidth: 1.4}),
      // axis lines
      Plot.ruleX([xDomain[0]], {stroke: "#000", strokeWidth: 1.6}),
      Plot.ruleY([yDomain[0]], {stroke: "#000", strokeWidth: 1.6}),
      // gate
      Plot.rect(gate, {x1: "x1", x2: "x2", y1: "y1", y2: "y2", fill: "none", stroke: "#1a1a1a", strokeWidth: 1.5})
    ];
    if (fadedGateBase[c]) {
      marks.push(Plot.ruleY(gate, {
        y: "y1",
        x1: d => 10 ** (Math.log10(d.x1) + 0.22 * (Math.log10(d.x2) - Math.log10(d.x1))),
        x2: d => 10 ** (Math.log10(d.x1) + 0.82 * (Math.log10(d.x2) - Math.log10(d.x1))),
        stroke: "#d6d6d6", strokeWidth: 1.5
      }));
    }
    marks.push(
      Plot.text([percents[r][c]], {text: d => String(d), frameAnchor: "bottom-right", dx: -41, dy: -18,
        fontSize: 30.5, textAnchor: "middle", lineAnchor: "bottom", fill: "#000"}),
      Plot.text([markers[c]], {text: d => d, frameAnchor: "left", rotate: -90, dx: -42, dy: 6,
        fontSize: 28, textAnchor: "middle", lineAnchor: "middle", fill: "#000"})
    );
    const svg = Plot.plot({
      width: ML + FW + MR, height: MT + FH + MB,
      marginLeft: ML, marginRight: MR, marginTop: MT, marginBottom: MB,
      x: {type: "log", domain: xDomain},
      y: {type: "log", domain: yDomain},
      style: {fontFamily: FONT, background: "transparent", color: "#000", overflow: "visible"},
      marks
    });
    svg.classList.add("panel");
    svg.style.left = (colLefts[c] - ML) + "px";
    svg.style.top = (rowTops[r] - MT) + "px";
    page.appendChild(svg);
  });
});

// overlay: column titles, row labels and the TRAIL / Isotype arrows
const ov = d3.select(page).append("svg").attr("id", "overlay")
  .attr("width", 1523).attr("height", 1043)
  .style("font-family", FONT);
populations.forEach((p, c) => {
  ov.append("text").attr("x", colLefts[c] + FW / 2).attr("y", 36)
    .attr("text-anchor", "middle").attr("font-size", 32).attr("font-weight", "bold").text(p);
});
const rowCenters = [0, 553, 862];
rowLabels.forEach((t, r) => {
  if (!t) return;
  ov.append("text").attr("transform", `translate(35,${rowCenters[r]}) rotate(-90)`)
    .attr("text-anchor", "middle").attr("font-size", 32).attr("font-weight", "bold").text(t);
});
function arrow(label, lx, baseline, y) {
  ov.append("text").attr("x", lx).attr("y", baseline).attr("font-size", 28).text(label);
  ov.append("line").attr("x1", 225).attr("x2", 1478).attr("y1", y).attr("y2", y)
    .attr("stroke", "#1a1a1a").attr("stroke-width", 2);
  ov.append("polygon").attr("points", `1492,${y} 1474,${y - 8} 1474,${y + 8}`).attr("fill", "#1a1a1a");
}
arrow("Isotype", 118, 339, 333);
arrow("TRAIL", 128, 1036, 1029);
</script>
</body>
</html>
